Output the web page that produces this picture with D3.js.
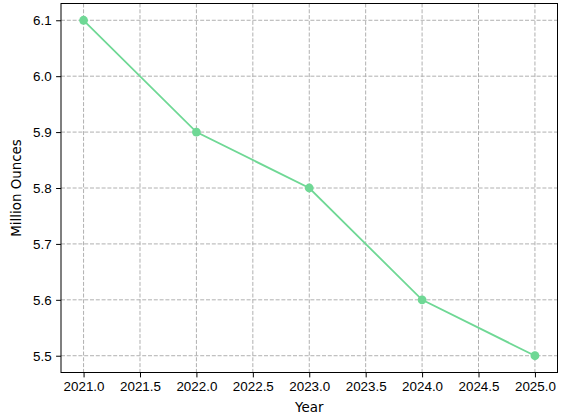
<!DOCTYPE html>
<meta charset="utf-8">
<style>
body { margin: 0; background: #fff; }
svg { font-family: "DejaVu Sans", sans-serif; }
.axis text { font-size: 13.4px; fill: #000; }
.axis path, .axis line { stroke: #000; stroke-width: 1px; }
.grid line { stroke: #b0b0b0; stroke-width: 1px; stroke-dasharray: 4,1.8; }
.label { font-size: 13.4px; fill: #000; }
</style>
<body>
<script src="https://d3js.org/d3.v7.min.js"></script>
<script>
var years = [2021, 2022, 2023, 2024, 2025];
var ounces = [6.1, 5.9, 5.8, 5.6, 5.5];
var xTicks = [2021.0, 2021.5, 2022.0, 2022.5, 2023.0, 2023.5, 2024.0, 2024.5, 2025.0];
var yTicks = [5.5, 5.6, 5.7, 5.8, 5.9, 6.0, 6.1];

var width = 568, height = 418;
var margin = { top: 3.5, right: 10.5, bottom: 45.5, left: 61 };
var w = width - margin.left - margin.right;
var h = height - margin.top - margin.bottom;

var svg = d3.select("body").append("svg")
    .attr("width", width)
    .attr("height", height);

var g = svg.append("g")
    .attr("transform", "translate(" + margin.left + "," + margin.top + ")");

var x = d3.scaleLinear().domain([2020.8, 2025.2]).range([0, w]);
var y = d3.scaleLinear().domain([5.47, 6.13]).range([h, 0]);

// grid
g.append("g").attr("class", "grid")
  .selectAll("line.v").data(xTicks).enter().append("line")
    .attr("x1", function(d) { return x(d); })
    .attr("x2", function(d) { return x(d); })
    .attr("y1", 0).attr("y2", h);
g.append("g").attr("class", "grid")
  .selectAll("line.h").data(yTicks).enter().append("line")
    .attr("y1", function(d) { return y(d); })
    .attr("y2", function(d) { return y(d); })
    .attr("x1", 0).attr("x2", w);

var color = "#6fd895";

var line = d3.line()
    .x(function(d, i) { return x(years[i]); })
    .y(function(d) { return y(d); });

g.append("path")
    .datum(ounces)
    .attr("fill", "none")
    .attr("stroke", color)
    .attr("stroke-width", 1.8)
    .attr("d", line);

g.selectAll("circle").data(ounces).enter().append("circle")
    .attr("cx", function(d, i) { return x(years[i]); })
    .attr("cy", function(d) { return y(d); })
    .attr("r", 4.4)
    .attr("fill", color);

var xAxis = d3.axisBottom(x).tickValues(xTicks).tickFormat(d3.format(".1f"))
    .tickSize(4.9).tickPadding(4.5);
var yAxis = d3.axisLeft(y).tickValues(yTicks).tickFormat(d3.format(".1f"))
    .tickSize(4.9).tickPadding(4.5);

g.append("g").attr("class", "x axis")
    .attr("transform", "translate(0," + h + ")")
    .call(xAxis);
g.append("g").attr("class", "y axis")
    .call(yAxis);

g.selectAll(".domain").remove();
g.append("rect")
    .attr("width", w).attr("height", h)
    .attr("fill", "none").attr("stroke", "#000").attr("stroke-width", 1);

g.selectAll(".y.axis text").attr("dy", "0.35em");

svg.append("text")
    .attr("class", "label")
    .attr("x", margin.left + w / 2)
    .attr("y", 412)
    .attr("text-anchor", "middle")
    .text("Year");

svg.append("text")
    .attr("class", "label")
    .attr("transform", "translate(20.5," + (margin.top + h / 2) + ") rotate(-90)")
    .attr("text-anchor", "middle")
    .text("Million Ounces");
</script>
</body>
